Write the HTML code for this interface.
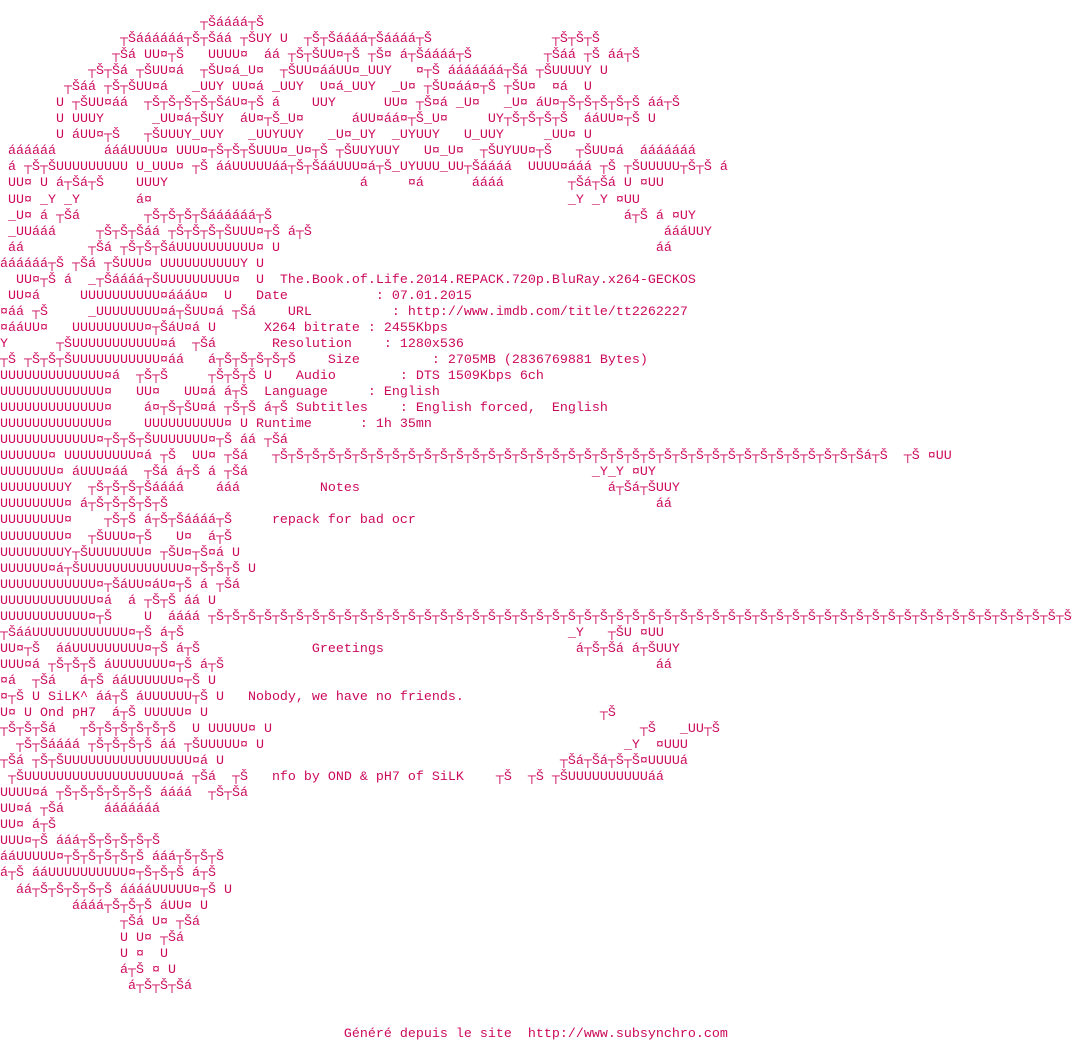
<!DOCTYPE html>
<html><head><meta charset="utf-8"><style>
html,body{margin:0;padding:0;background:#fff;width:1072px;height:1040px;overflow:hidden}
pre{margin:0;padding-top:16px;font-family:"Liberation Mono","DejaVu Sans Mono",monospace;font-size:13.33px;line-height:16.05px;color:#cc0a5c;white-space:pre}
</style></head><body><pre>                         ┬Šáááá┬Š
               ┬Šáááááá┬Š┬Šáá ┬ŠUY U  ┬Š┬Šáááá┬Šáááá┬Š               ┬Š┬Š┬Š
              ┬Šá UU¤┬Š   UUUU¤  áá ┬Š┬ŠUU¤┬Š ┬Š¤ á┬Šáááá┬Š         ┬Šáá ┬Š áá┬Š
           ┬Š┬Šá ┬ŠUU¤á  ┬ŠU¤á_U¤  ┬ŠUU¤ááUU¤_UUY   ¤┬Š ááááááá┬Šá ┬ŠUUUUY U
        ┬Šáá ┬Š┬ŠUU¤á   _UUY UU¤á _UUY  U¤á_UUY  _U¤ ┬ŠU¤áá¤┬Š ┬ŠU¤  ¤á  U
       U ┬ŠUU¤áá  ┬Š┬Š┬Š┬Š┬ŠáU¤┬Š á    UUY      UU¤ ┬Š¤á _U¤   _U¤ áU¤┬Š┬Š┬Š┬Š┬Š áá┬Š
       U UUUY      _UU¤á┬ŠUY  áU¤┬Š_U¤      áUU¤áá¤┬Š_U¤     UY┬Š┬Š┬Š┬Š  ááUU¤┬Š U
       U áUU¤┬Š   ┬ŠUUUY_UUY   _UUYUUY   _U¤_UY  _UYUUY   U_UUY     _UU¤ U
 áááááá      áááUUUU¤ UUU¤┬Š┬Š┬ŠUUU¤_U¤┬Š ┬ŠUUYUUY   U¤_U¤  ┬ŠUYUU¤┬Š   ┬ŠUU¤á  ááááááá
 á ┬Š┬ŠUUUUUUUUU U_UUU¤ ┬Š ááUUUUUáá┬Š┬ŠááUUU¤á┬Š_UYUUU_UU┬Šáááá  UUUU¤ááá ┬Š ┬ŠUUUUU┬Š┬Š á
 UU¤ U á┬Šá┬Š    UUUY                        á     ¤á      áááá        ┬Šá┬Šá U ¤UU
 UU¤ _Y _Y       á¤                                                    _Y _Y ¤UU
 _U¤ á ┬Šá        ┬Š┬Š┬Š┬Šáááááá┬Š                                            á┬Š á ¤UY
 _UUááá     ┬Š┬Š┬Šáá ┬Š┬Š┬Š┬ŠUUU¤┬Š á┬Š                                            áááUUY
 áá        ┬Šá ┬Š┬Š┬ŠáUUUUUUUUUU¤ U                                               áá
áááááá┬Š ┬Šá ┬ŠUUU¤ UUUUUUUUUUY U
  UU¤┬Š á  _┬Šáááá┬ŠUUUUUUUUU¤  U  The.Book.of.Life.2014.REPACK.720p.BluRay.x264-GECKOS
 UU¤á     UUUUUUUUUU¤áááU¤  U   Date           : 07.01.2015
¤áá ┬Š     _UUUUUUUU¤á┬ŠUU¤á ┬Šá    URL          : http://www.imdb.com/title/tt2262227
¤ááUU¤   UUUUUUUUU¤┬ŠáU¤á U      X264 bitrate : 2455Kbps
Y      ┬ŠUUUUUUUUUUU¤á  ┬Šá       Resolution    : 1280x536
┬Š ┬Š┬Š┬ŠUUUUUUUUUUU¤áá   á┬Š┬Š┬Š┬Š┬Š    Size         : 2705MB (2836769881 Bytes)
UUUUUUUUUUUUU¤á  ┬Š┬Š     ┬Š┬Š┬Š U   Audio        : DTS 1509Kbps 6ch
UUUUUUUUUUUUU¤   UU¤   UU¤á á┬Š  Language     : English
UUUUUUUUUUUUU¤    á¤┬Š┬ŠU¤á ┬Š┬Š á┬Š Subtitles    : English forced,  English
UUUUUUUUUUUUU¤    UUUUUUUUUU¤ U Runtime      : 1h 35mn
UUUUUUUUUUUU¤┬Š┬Š┬ŠUUUUUUU¤┬Š áá ┬Šá
UUUUUU¤ UUUUUUUUU¤á ┬Š  UU¤ ┬Šá   ┬Š┬Š┬Š┬Š┬Š┬Š┬Š┬Š┬Š┬Š┬Š┬Š┬Š┬Š┬Š┬Š┬Š┬Š┬Š┬Š┬Š┬Š┬Š┬Š┬Š┬Š┬Š┬Š┬Š┬Š┬Š┬Š┬Š┬Š┬Š┬Š┬Šá┬Š  ┬Š ¤UU
UUUUUUU¤ áUUU¤áá  ┬Šá á┬Š á ┬Šá                                           _Y_Y ¤UY
UUUUUUUUY  ┬Š┬Š┬Š┬Šáááá    ááá          Notes                               á┬Šá┬ŠUUY
UUUUUUUU¤ á┬Š┬Š┬Š┬Š┬Š                                                             áá
UUUUUUUU¤    ┬Š┬Š á┬Š┬Šáááá┬Š     repack for bad ocr
UUUUUUUU¤  ┬ŠUUU¤┬Š   U¤  á┬Š
UUUUUUUUY┬ŠUUUUUUU¤ ┬ŠU¤┬Š¤á U
UUUUUU¤á┬ŠUUUUUUUUUUUUU¤┬Š┬Š┬Š U
UUUUUUUUUUUU¤┬ŠáUU¤áU¤┬Š á ┬Šá
UUUUUUUUUUUU¤á  á ┬Š┬Š áá U
UUUUUUUUUUU¤┬Š    U  áááá ┬Š┬Š┬Š┬Š┬Š┬Š┬Š┬Š┬Š┬Š┬Š┬Š┬Š┬Š┬Š┬Š┬Š┬Š┬Š┬Š┬Š┬Š┬Š┬Š┬Š┬Š┬Š┬Š┬Š┬Š┬Š┬Š┬Š┬Š┬Š┬Š┬Š┬Š┬Š┬Š┬Š┬Š┬Š┬Š┬Š┬Š┬Š┬Š┬Š┬Š┬Š┬Š┬Š┬Š┬Š
┬ŠááUUUUUUUUUUUU¤┬Š á┬Š                                                _Y   ┬ŠU ¤UU
UU¤┬Š  ááUUUUUUUUU¤┬Š á┬Š              Greetings                        á┬Š┬Šá á┬ŠUUY
UUU¤á ┬Š┬Š┬Š áUUUUUUU¤┬Š á┬Š                                                      áá
¤á  ┬Šá   á┬Š ááUUUUUU¤┬Š U
¤┬Š U SiLK^ áá┬Š áUUUUUU┬Š U   Nobody, we have no friends.
U¤ U Ond pH7  á┬Š UUUUU¤ U                                                 ┬Š
┬Š┬Š┬Šá   ┬Š┬Š┬Š┬Š┬Š┬Š  U UUUUU¤ U                                              ┬Š   _UU┬Š
  ┬Š┬Šáááá ┬Š┬Š┬Š┬Š áá ┬ŠUUUUU¤ U                                             _Y  ¤UUU
┬Šá ┬Š┬ŠUUUUUUUUUUUUUUUU¤á U                                          ┬Šá┬Šá┬Š┬Š¤UUUUá
 ┬ŠUUUUUUUUUUUUUUUUUU¤á ┬Šá  ┬Š   nfo by OND &amp; pH7 of SiLK    ┬Š  ┬Š ┬ŠUUUUUUUUUUáá
UUUU¤á ┬Š┬Š┬Š┬Š┬Š┬Š áááá  ┬Š┬Šá
UU¤á ┬Šá     ááááááá
UU¤ á┬Š
UUU¤┬Š ááá┬Š┬Š┬Š┬Š┬Š
ááUUUUU¤┬Š┬Š┬Š┬Š┬Š ááá┬Š┬Š┬Š
á┬Š ááUUUUUUUUUU¤┬Š┬Š┬Š á┬Š
  áá┬Š┬Š┬Š┬Š┬Š ááááUUUUU¤┬Š U
         áááá┬Š┬Š┬Š áUU¤ U
               ┬Šá U¤ ┬Šá
               U U¤ ┬Šá
               U ¤  U
               á┬Š ¤ U
                á┬Š┬Š┬Šá


                                           Généré depuis le site  http://www.subsynchro.com
</pre></body></html>
